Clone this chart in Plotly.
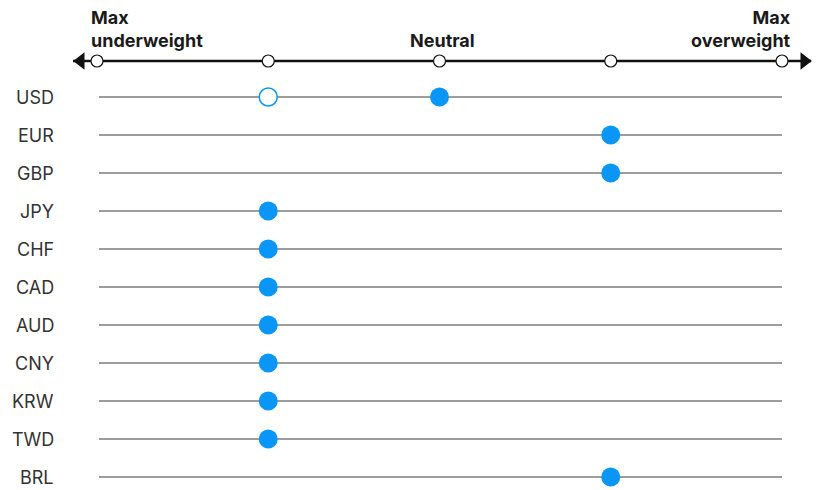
import plotly.graph_objects as go

currencies = ["USD", "EUR", "GBP", "JPY", "CHF", "CAD", "AUD", "CNY", "KRW", "TWD", "BRL"]
current_view = [0, 1, 1, -1, -1, -1, -1, -1, -1, -1, 1]
prior_view = [-1, None, None, None, None, None, None, None, None, None, None]
scale_ticks = [-2, -1, 0, 1, 2]
scale_labels = {-2: "Max<br>underweight", 0: "Neutral", 2: "Max<br>overweight"}

BLUE = "#0a96f7"
FONT = "Inter, Roboto, Arial, sans-serif"

W, H = 821, 490
# pixel mapping
px_per_unit = 171.25
x_left_px = 97
x0 = -2 - x_left_px / px_per_unit
x1 = x0 + W / px_per_unit
row_px0, row_step = 97, 38
y_top = -row_px0 / row_step
y_bot = y_top + H / row_step
axis_y = -36 / row_step

rows = list(range(len(currencies)))
fig = go.Figure()

# row lines
for i in rows:
    fig.add_trace(go.Scatter(x=[scale_ticks[0] + 0.012, scale_ticks[-1]], y=[i, i], mode="lines",
                             line=dict(color="#3c3c3c", width=1.2), hoverinfo="skip", showlegend=False))

# scale axis line
fig.add_trace(go.Scatter(x=[scale_ticks[0] - 0.14, scale_ticks[-1] + 0.17], y=[axis_y, axis_y], mode="lines",
                         line=dict(color="#111111", width=2.5), hoverinfo="skip", showlegend=False))
# arrowheads
fig.add_trace(go.Scatter(x=[scale_ticks[0] - 0.095], y=[axis_y], mode="markers",
                         marker=dict(symbol="triangle-left", size=15, color="#111111", line=dict(width=0)),
                         hoverinfo="skip", showlegend=False))
fig.add_trace(go.Scatter(x=[scale_ticks[-1] + 0.13], y=[axis_y], mode="markers",
                         marker=dict(symbol="triangle-right", size=15, color="#111111", line=dict(width=0)),
                         hoverinfo="skip", showlegend=False))
# tick circles
fig.add_trace(go.Scatter(x=scale_ticks, y=[axis_y] * len(scale_ticks), mode="markers",
                         marker=dict(symbol="circle", size=12, color="white", line=dict(color="#111111", width=1.2)),
                         hoverinfo="skip", showlegend=False))

# prior view (open)
px_ = [v for v in prior_view if v is not None]
py_ = [i for i, v in zip(rows, prior_view) if v is not None]
fig.add_trace(go.Scatter(x=px_, y=py_, mode="markers",
                         marker=dict(symbol="circle", size=18, color="white", line=dict(color=BLUE, width=1.5)),
                         name="Prior", showlegend=False))
# current view
fig.add_trace(go.Scatter(x=current_view, y=rows, mode="markers",
                         marker=dict(symbol="circle", size=19, color=BLUE, line=dict(width=0)),
                         name="Current", showlegend=False))

annotations = []
for i, c in zip(rows, currencies):
    annotations.append(dict(x=-2 - (97 - 56) / px_per_unit, y=i, xref="x", yref="y", text=c, showarrow=False,
                            xanchor="right", yanchor="middle",
                            font=dict(family=FONT, size=18, color="#333333")))
for t, lab in scale_labels.items():
    anchor = "left" if t == scale_ticks[0] else ("right" if t == scale_ticks[-1] else "center")
    xx = t - 7 / px_per_unit if anchor == "left" else (t + 10 / px_per_unit if anchor == "right" else t + 3 / px_per_unit)
    annotations.append(dict(x=xx, y=axis_y - 0.24, xref="x", yref="y", text="<b>" + lab + "</b>", showarrow=False,
                            xanchor=anchor, yanchor="bottom", align=anchor if anchor != "center" else "center",
                            borderpad=0,
                            font=dict(family=FONT, size=18, color="#1a1a1a")))

fig.update_layout(
    width=W, height=H, margin=dict(l=0, r=0, t=0, b=0),
    plot_bgcolor="white", paper_bgcolor="white",
    xaxis=dict(range=[x0, x1], visible=False, fixedrange=True),
    yaxis=dict(range=[y_bot, y_top], visible=False, fixedrange=True),
    annotations=annotations,
    hovermode=False,
)

fig.write_html("out.html", config={"displayModeBar": False, "staticPlot": True},
               post_script="document.body.style.margin='0';")
